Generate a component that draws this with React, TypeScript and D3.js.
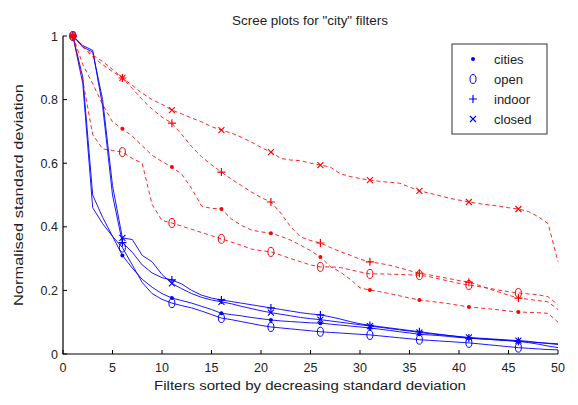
import React from 'react';
import * as d3 from 'd3';

const filterIndex = d3.range(1, 51);

const seriesNames = ['cities', 'open', 'indoor', 'closed'];

// blue = solid lines, red = dashed lines
const blueCities = [1.0,0.87,0.50,0.43,0.37,0.31,0.27,0.235,0.21,0.19,0.176,0.168,0.16,0.15,0.14,0.128,0.124,0.12,0.115,0.111,0.107,0.104,0.102,0.1,0.098,0.097,0.094,0.091,0.088,0.085,0.082,0.078,0.074,0.07,0.066,0.062,0.06,0.058,0.055,0.052,0.05,0.048,0.046,0.044,0.042,0.04,0.036,0.031,0.025,0.02];
const blueOpen = [1.0,0.85,0.46,0.41,0.37,0.335,0.28,0.225,0.19,0.172,0.16,0.152,0.145,0.135,0.124,0.113,0.108,0.102,0.096,0.09,0.085,0.082,0.079,0.076,0.073,0.07,0.068,0.066,0.064,0.062,0.06,0.057,0.054,0.051,0.048,0.045,0.043,0.041,0.039,0.037,0.035,0.032,0.029,0.026,0.023,0.02,0.018,0.016,0.014,0.013];
const blueIndoor = [1.0,0.97,0.955,0.78,0.50,0.35,0.32,0.28,0.255,0.24,0.233,0.22,0.2,0.185,0.176,0.17,0.165,0.16,0.155,0.15,0.145,0.14,0.135,0.13,0.126,0.123,0.117,0.11,0.102,0.095,0.09,0.086,0.082,0.078,0.074,0.07,0.066,0.062,0.058,0.054,0.05,0.048,0.046,0.044,0.042,0.04,0.038,0.036,0.034,0.032];
const blueClosed = [1.0,0.965,0.95,0.80,0.53,0.365,0.36,0.31,0.29,0.25,0.222,0.205,0.19,0.178,0.17,0.164,0.158,0.15,0.143,0.136,0.13,0.125,0.12,0.115,0.111,0.108,0.104,0.1,0.096,0.092,0.088,0.084,0.08,0.076,0.072,0.068,0.064,0.061,0.058,0.055,0.052,0.05,0.048,0.046,0.044,0.042,0.04,0.036,0.033,0.03];

const redCities = [1.0,0.91,0.85,0.785,0.73,0.708,0.685,0.655,0.625,0.605,0.588,0.565,0.52,0.465,0.458,0.456,0.425,0.405,0.39,0.384,0.38,0.37,0.358,0.342,0.325,0.305,0.275,0.258,0.235,0.208,0.201,0.196,0.19,0.183,0.176,0.17,0.166,0.162,0.158,0.153,0.148,0.145,0.142,0.139,0.135,0.132,0.131,0.13,0.128,0.10];
const redOpen = [1.0,0.86,0.69,0.645,0.64,0.635,0.615,0.60,0.47,0.42,0.412,0.402,0.392,0.382,0.372,0.362,0.352,0.342,0.33,0.325,0.321,0.311,0.30,0.29,0.28,0.274,0.274,0.272,0.265,0.258,0.252,0.252,0.251,0.25,0.249,0.248,0.243,0.236,0.229,0.222,0.217,0.212,0.207,0.201,0.196,0.192,0.189,0.186,0.18,0.155];
const redIndoor = [1.0,0.965,0.935,0.91,0.888,0.868,0.835,0.80,0.77,0.745,0.726,0.69,0.652,0.62,0.595,0.572,0.55,0.53,0.51,0.492,0.478,0.443,0.40,0.368,0.357,0.349,0.335,0.322,0.311,0.298,0.29,0.285,0.279,0.271,0.262,0.254,0.249,0.243,0.237,0.231,0.226,0.216,0.205,0.195,0.185,0.176,0.172,0.168,0.164,0.14];
const redClosed = [1.0,0.97,0.94,0.92,0.895,0.868,0.845,0.82,0.80,0.785,0.767,0.755,0.742,0.73,0.715,0.704,0.695,0.682,0.667,0.65,0.635,0.615,0.61,0.608,0.60,0.594,0.588,0.567,0.558,0.552,0.547,0.543,0.54,0.537,0.525,0.513,0.506,0.498,0.49,0.484,0.478,0.473,0.469,0.465,0.46,0.456,0.448,0.432,0.41,0.29];

const xTicks = d3.range(0, 51, 5);
const yTicks = [0, 0.2, 0.4, 0.6, 0.8, 1];

const W = 578;
const H = 405;
const FONT = '"Liberation Sans", Arial, sans-serif';

function Marker({ kind, x, y, color }) {
  if (kind === 'cities') return <circle cx={x} cy={y} r={2} fill={color} />;
  if (kind === 'open') return <ellipse cx={x} cy={y} rx={3} ry={4.5} fill="none" stroke={color} strokeWidth={1} />;
  if (kind === 'indoor') {
    return (
      <path d={`M${x - 4},${y}H${x + 4}M${x},${y - 4}V${y + 4}`} stroke={color} strokeWidth={1.2} />
    );
  }
  return <path d={`M${x - 3},${y - 3}L${x + 3},${y + 3}M${x - 3},${y + 3}L${x + 3},${y - 3}`} stroke={color} strokeWidth={1.1} />;
}

export default function App() {
  const x = d3.scaleLinear().domain([0, 50]).range([63, 558]);
  const y = d3.scaleLinear().domain([0, 1]).range([354, 36]);

  const line = d3.line<number>()
    .x((_, i) => x(filterIndex[i]))
    .y(d => y(d));

  const groups = [
    { color: '#0000ff', dash: undefined, data: [blueCities, blueOpen, blueIndoor, blueClosed] },
    { color: '#ff0000', dash: '4,3', data: [redCities, redOpen, redIndoor, redClosed] },
  ];

  return (
    <svg width={W} height={H} style={{ position: 'absolute', left: 0, top: 0, background: '#fff' }} fontFamily={FONT}>
      <rect width={W} height={H} fill="#fff" />

      {/* series */}
      {groups.map((g, gi) => (
        <g key={gi}>
          {g.data.map((vals, si) => (
            <g key={si}>
              <path d={line(vals)} fill="none" stroke={g.color} strokeWidth={1} strokeDasharray={g.dash} opacity={gi === 1 ? 0.85 : 0.9} />
              {vals.map((v, i) => (i % 5 === 0 ? (
                <Marker key={i} kind={seriesNames[si]} x={x(filterIndex[i])} y={y(v)} color={g.color} />
              ) : null))}
            </g>
          ))}
        </g>
      ))}

      {/* axes */}
      <path d={`M${x(0)},${y(1)}V${y(0)}H${x(50)}`} fill="none" stroke="#000" strokeWidth={1.2} />
      {xTicks.map(t => (
        <g key={t}>
          <line x1={x(t)} x2={x(t)} y1={y(0)} y2={y(0) - 4} stroke="#000" />
          <text x={x(t)} y={372} textAnchor="middle" fontSize={12.5} fill="#222">{t}</text>
        </g>
      ))}
      {yTicks.map(t => (
        <g key={t}>
          <line x1={x(0)} x2={x(0) + 4} y1={y(t)} y2={y(t)} stroke="#000" />
          <text x={x(0) - 5} y={y(t) + 4.5} textAnchor="end" fontSize={12.5} fill="#222">{t}</text>
        </g>
      ))}

      <text x={310} y={25} textAnchor="middle" fontSize={13} textLength={156} lengthAdjust="spacingAndGlyphs" fill="#222">Scree plots for "city" filters</text>
      <text x={310} y={390} textAnchor="middle" fontSize={13} textLength={312} lengthAdjust="spacingAndGlyphs" fill="#222">Filters sorted by decreasing standard deviation</text>
      <text transform={`translate(23,${y(0.5)}) rotate(-90)`} textAnchor="middle" fontSize={13} textLength={222} lengthAdjust="spacingAndGlyphs" fill="#222">Normalised standard deviation</text>

      {/* legend */}
      <g>
        <rect x={452} y={44} width={95} height={90} fill="#fff" stroke="#333" strokeWidth={1} />
        {seriesNames.map((name, i) => (
          <g key={name}>
            <Marker kind={name} x={473} y={59 + i * 20} color="#0000ff" />
            <text x={494} y={64 + i * 20} fontSize={13} fill="#222">{name}</text>
          </g>
        ))}
      </g>
    </svg>
  );
}
